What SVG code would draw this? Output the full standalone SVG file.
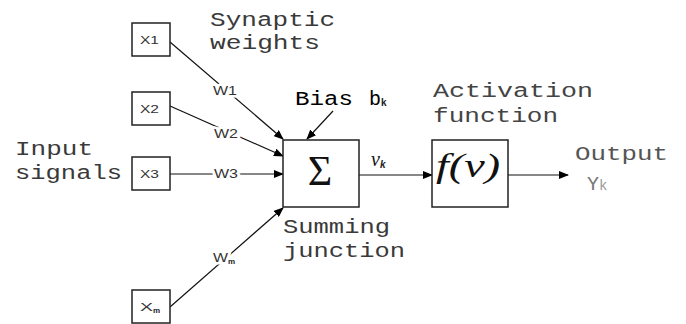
<svg xmlns="http://www.w3.org/2000/svg" width="686" height="324" viewBox="0 0 686 324">
<style>
.box{fill:#fff;stroke:#222;stroke-width:1.5}
.ln{stroke:#111;stroke-width:1.2;fill:none}
.mono{font-family:"Liberation Mono","Courier New",monospace;font-size:20px;fill:#3a3a3a}
.sm{font-family:"Liberation Sans",Arial,sans-serif;font-size:11px;fill:#333}
.wl{font-family:"Liberation Sans",Arial,sans-serif;font-size:13px;fill:#333;stroke:#fff;stroke-width:5;paint-order:stroke;stroke-linejoin:round}
.sub{font-family:"Liberation Sans",Arial,sans-serif;font-weight:bold;fill:#222}
.serif{font-family:"Liberation Serif","Times New Roman",serif;fill:#111}
</style>
<defs>
<marker id="ah" markerUnits="userSpaceOnUse" markerWidth="10" markerHeight="8" refX="9" refY="4" orient="auto">
<path d="M0,0 L10,4 L0,8 Z" fill="#000"/>
</marker>
</defs>
<g id="connectors">
<line class="ln" x1="170" y1="42" x2="283" y2="139" marker-end="url(#ah)"/>
<line class="ln" x1="170" y1="106" x2="283" y2="156" marker-end="url(#ah)"/>
<line class="ln" x1="170" y1="174" x2="283" y2="174" marker-end="url(#ah)"/>
<line class="ln" x1="170" y1="307" x2="283" y2="208" marker-end="url(#ah)"/>
<line class="ln" x1="333" y1="111" x2="307" y2="139" marker-end="url(#ah)"/>
<line class="ln" x1="359" y1="175" x2="432" y2="175" marker-end="url(#ah)"/>
<line class="ln" x1="508" y1="175" x2="568" y2="175" marker-end="url(#ah)"/>
<text class="wl" x="213" y="95" textLength="24" lengthAdjust="spacingAndGlyphs">W1</text>
<text class="wl" x="214" y="138" textLength="24" lengthAdjust="spacingAndGlyphs">W2</text>
<text class="wl" x="214" y="178" textLength="24" lengthAdjust="spacingAndGlyphs">W3</text>
<text class="wl" x="213" y="262"><tspan textLength="15" lengthAdjust="spacingAndGlyphs">W</tspan><tspan class="sub" font-size="8" dy="2">m</tspan></text>
</g>
<g id="x1"><rect class="box" x="132" y="23" width="38" height="33"/><text class="sm" x="140" y="44" textLength="19" lengthAdjust="spacingAndGlyphs">X1</text></g>
<g id="x2"><rect class="box" x="132" y="92" width="38" height="33"/><text class="sm" x="140" y="113" textLength="19" lengthAdjust="spacingAndGlyphs">X2</text></g>
<g id="x3"><rect class="box" x="132" y="157" width="38" height="33"/><text class="sm" x="140" y="178" textLength="19" lengthAdjust="spacingAndGlyphs">X3</text></g>
<g id="xm"><rect class="box" x="132" y="290" width="38" height="33"/><text class="sm" x="140" y="311"><tspan textLength="13" lengthAdjust="spacingAndGlyphs">X</tspan><tspan class="sub" font-size="8" dy="2">m</tspan></text></g>
<g id="sum"><rect class="box" x="283" y="140" width="76" height="67"/><text class="serif" x="320" y="185" font-size="42" text-anchor="middle">Σ</text></g>
<g id="act"><rect class="box" x="432" y="140" width="76" height="67"/><text class="serif" x="436" y="177" font-size="34" font-style="italic" textLength="64" lengthAdjust="spacingAndGlyphs">f(v)</text></g>
<g id="labels">
<text class="mono" x="210" y="26" textLength="125" lengthAdjust="spacingAndGlyphs">Synaptic</text>
<text class="mono" x="210" y="49" textLength="110" lengthAdjust="spacingAndGlyphs">weights</text>
<text class="mono" x="15" y="155" textLength="78" lengthAdjust="spacingAndGlyphs">Input</text>
<text class="mono" x="15" y="179" textLength="107" lengthAdjust="spacingAndGlyphs">signals</text>
<text class="mono" x="295" y="105" style="fill:#000"><tspan textLength="58" lengthAdjust="spacingAndGlyphs">Bias</tspan><tspan x="369">b</tspan><tspan class="sub" font-size="10" dy="1">k</tspan></text>
<text class="mono" x="433" y="97" textLength="160" lengthAdjust="spacingAndGlyphs" style="fill:#444">Activation</text>
<text class="mono" x="433" y="122" textLength="125" lengthAdjust="spacingAndGlyphs" style="fill:#444">function</text>
<text class="mono" x="283" y="233" textLength="107" lengthAdjust="spacingAndGlyphs">Summing</text>
<text class="mono" x="283" y="257" textLength="122" lengthAdjust="spacingAndGlyphs">junction</text>
<text class="mono" x="575" y="160" textLength="93" lengthAdjust="spacingAndGlyphs" style="fill:#555">Output</text>
<text class="mono" x="587" y="190" style="fill:#777">Y<tspan font-size="14" style="fill:#999">k</tspan></text>
<text class="serif" x="371" y="166" font-size="20" font-style="italic">v<tspan class="sub" font-size="10" dy="2">k</tspan></text>
</g>
</svg>
